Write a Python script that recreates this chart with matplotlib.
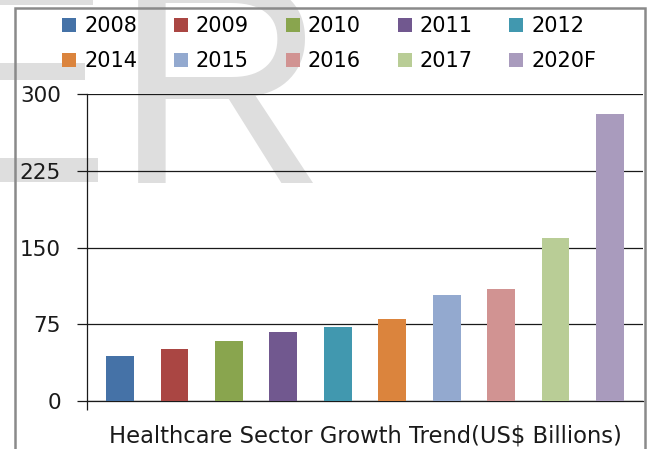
import matplotlib
matplotlib.use("Agg")
import matplotlib.pyplot as plt
from matplotlib.patches import Patch, Rectangle

categories = ["2008", "2009", "2010", "2011", "2012", "2014", "2015", "2016", "2017", "2020F"]
values = [44, 51, 59, 67, 72, 80, 104, 109, 159, 280]
colors = ["#4572A7", "#AA4643", "#89A54E", "#71588F", "#4198AF",
          "#DB843D", "#93A9CF", "#D19392", "#B9CD96", "#A99BBD"]
yticks = [0, 75, 150, 225, 300]
xlabel = "Healthcare Sector Growth Trend(US$ Billions)"

FONT = "DejaVu Sans"
TXT = "#1a1a1a"
W, H = 648, 449
fig = plt.figure(figsize=(W / 100, H / 100), dpi=100)
fig.patch.set_facecolor("white")

# watermark (light gray background shapes)
wm = "#dedede"
for (x0, y0, x1, y1) in [(0, 0, 93, 5), (0, 63, 85, 80), (0, 158, 98, 182)]:
    fig.patches.append(Rectangle((x0 / W, 1 - y1 / H), (x1 - x0) / W, (y1 - y0) / H,
                                 transform=fig.transFigure, facecolor=wm,
                                 edgecolor="none", zorder=-5))
fig.text(114 / W, 1 - 183 / H, "R", fontsize=212, family="Liberation Sans",
         color=wm, ha="left", va="baseline", zorder=-5)

# outer chart border
fig.patches.append(Rectangle((14.5 / W, -0.05), (644.5 - 14.5) / W, 1.05 - 8 / H,
                             transform=fig.transFigure, facecolor="none",
                             edgecolor="#8a8a8a", linewidth=1.8, zorder=-1))

ax = fig.add_axes([87 / W, 1 - 401 / H, (643 - 87) / W, (401 - 94) / H])
ax.patch.set_alpha(0)
n = len(categories)
x = list(range(n))
ax.bar(x, values, width=0.51, color=colors, zorder=3)
ax.set_xlim(-0.606, n - 1 + 0.606)
ax.set_ylim(0, 300)
ax.set_yticks(yticks)
ax.set_yticklabels([str(t) for t in yticks], fontsize=15.5, family=FONT, color=TXT)
ax.yaxis.grid(True, color=TXT, linewidth=0.9, zorder=1)
ax.set_axisbelow(True)
ax.tick_params(axis="y", length=7.2, width=0.9, color=TXT, pad=11.5)
ax.set_xticks([ax.get_xlim()[0]])
ax.tick_params(axis="x", length=6.5, width=0.9, color=TXT, labelbottom=False)
for s in ["top", "right"]:
    ax.spines[s].set_visible(False)
for s in ["left", "bottom"]:
    ax.spines[s].set_color(TXT)
    ax.spines[s].set_linewidth(0.9)

lab = ax.set_xlabel(xlabel, fontsize=15, family=FONT, color=TXT, va="baseline")
ax.xaxis.set_label_coords(0.5, (401 - 442) / (401 - 94))
fig.canvas.draw()
r = fig.canvas.get_renderer()
wpx = lab.get_window_extent(r).width
lab.set_fontsize(15 * 514 / wpx)

# legend in row-major order (matplotlib fills columns first)
ncol, nrow = 5, 2
order = [r_ * ncol + c for c in range(ncol) for r_ in range(nrow)]
handles = [Patch(facecolor=colors[i], edgecolor="none") for i in order]
labels = [categories[i] for i in order]
fig.legend(handles, labels, ncol=ncol, loc="upper left",
           bbox_to_anchor=(62 / W, 1 - 16 / H), frameon=False,
           prop={"family": FONT, "size": 15}, borderpad=0,
           handlelength=0.68, handleheight=0.68, handletextpad=0.38,
           columnspacing=1.76, labelspacing=0.74, borderaxespad=0)

fig.savefig("out.png", dpi=100)
